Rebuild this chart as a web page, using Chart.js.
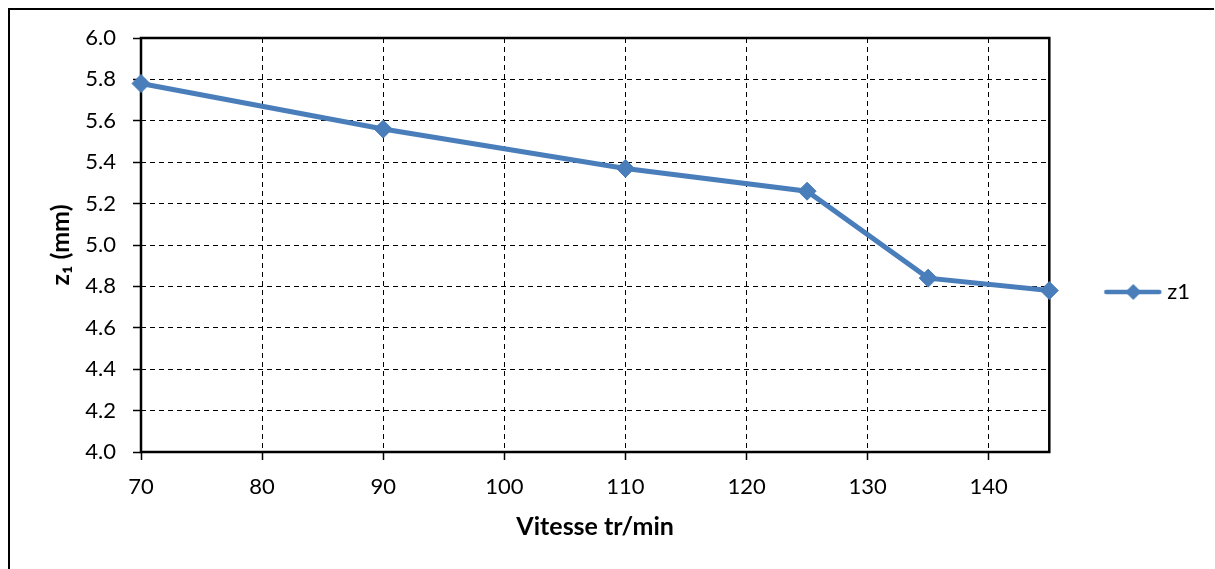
<!DOCTYPE html>
<html>
<head>
<meta charset="utf-8">
<script src="https://cdn.jsdelivr.net/npm/chart.js@4/dist/chart.umd.min.js"></script>
<style>
  html, body { margin: 0; padding: 0; background: #fff; }
  #wrap { width: 1215px; height: 569px; }
</style>
</head>
<body>
<div id="wrap"><canvas id="z_chart" width="1215" height="569"></canvas></div>
<script>
// donnees
var vitesses = [70, 90, 110, 125, 135, 145];
var z1 = [5.78, 5.56, 5.37, 5.26, 4.84, 4.78];
var xTicks = [70, 80, 90, 100, 110, 120, 130, 140];

var blue = "#4A7EBB";
var font = "Lato, 'Open Sans', sans-serif";

// petite image pour la legende : trait + losange
function legendMark() {
  var c = document.createElement("canvas");
  c.width = 109;
  c.height = 20;
  var g = c.getContext("2d");
  g.strokeStyle = blue;
  g.lineWidth = 4.5;
  g.lineCap = "round";
  g.beginPath();
  g.moveTo(c.width - 56, 10);
  g.lineTo(c.width - 3, 10);
  g.stroke();
  g.fillStyle = blue;
  var cx = c.width - 29;
  g.beginPath();
  g.moveTo(cx, 2);
  g.lineTo(cx + 8, 10);
  g.lineTo(cx, 18);
  g.lineTo(cx - 8, 10);
  g.closePath();
  g.fill();
  return c;
}
var mark = legendMark();

var frame = {
  id: "frame",
  beforeDraw: function (chart) {
    var g = chart.ctx;
    g.save();
    g.fillStyle = "#fff";
    g.fillRect(0, 0, chart.width, chart.height);
    g.strokeStyle = "#000";
    g.lineWidth = 2;
    g.beginPath();
    g.moveTo(9, chart.height);
    g.lineTo(9, 9);
    g.lineTo(1214, 9);
    g.stroke();
    g.restore();
  },
  beforeDatasetsDraw: function (chart) {
    var a = chart.chartArea;
    var g = chart.ctx;
    g.save();
    g.strokeStyle = "#000";
    g.lineWidth = 2.5;
    g.strokeRect(a.left, a.top, a.right - a.left, a.bottom - a.top);
    g.restore();
  },
};

var ctx = document.getElementById("z_chart").getContext("2d");
var z_chart = new Chart(ctx, {
  type: "line",
  data: {
    datasets: [
      {
        label: "z1",
        data: vitesses.map(function (v, i) { return { x: v, y: z1[i] }; }),
        borderColor: blue,
        backgroundColor: blue,
        borderWidth: 5,
        tension: 0,
        pointStyle: "rectRot",
        pointRadius: 9,
        pointBorderWidth: 1,
        pointBackgroundColor: blue,
        pointBorderColor: blue,
        clip: false,
      },
    ],
  },
  options: {
    responsive: false,
    animation: false,
    layout: { padding: { top: 38, left: 20, right: 15, bottom: 23 } },
    scales: {
      x: {
        type: "linear",
        min: 70,
        max: 145,
        afterBuildTicks: function (axis) {
          axis.ticks = xTicks.map(function (v) { return { value: v }; });
        },
        afterFit: function (axis) { axis.height = 94; },
        grid: {
          color: "#000",
          lineWidth: 1,
          tickLength: 8,
          tickColor: "#000",
          tickWidth: 1.5,
          tickBorderDash: [],
        },
        border: { display: false, dash: [5, 4] },
        ticks: { color: "#000", font: { family: font, size: 22 }, padding: 14, maxRotation: 0 },
        title: {
          display: true,
          text: "Vitesse tr/min",
          color: "#000",
          font: { family: font, size: 25, weight: "bold" },
          padding: { top: 0, bottom: 4 },
        },
      },
      y: {
        min: 4,
        max: 6,
        afterFit: function (axis) { axis.width = 121; },
        grid: {
          color: "#000",
          lineWidth: 1,
          tickLength: 8,
          tickColor: "#000",
          tickWidth: 1.5,
          tickBorderDash: [],
        },
        border: { display: false, dash: [5, 4] },
        ticks: {
          stepSize: 0.2,
          color: "#000",
          font: { family: font, size: 22 },
          padding: 17,
          callback: function (v) { return v.toFixed(1); },
        },
        title: {
          display: true,
          text: "z\u2081 (mm)",
          color: "#000",
          font: { family: font, size: 25, weight: "bold" },
          padding: { top: 26, bottom: 0 },
        },
      },
    },
    plugins: {
      tooltip: { enabled: false },
      legend: {
        position: "right",
        labels: {
          usePointStyle: true,
          pointStyleWidth: 97,
          color: "#000",
          font: { family: font, size: 22 },
          generateLabels: function (chart) {
            return [{ text: "z1", pointStyle: mark, fontColor: "#000", datasetIndex: 0, lineWidth: 0 }];
          },
        },
      },
    },
  },
  plugins: [frame],
});
</script>
</body>
</html>
